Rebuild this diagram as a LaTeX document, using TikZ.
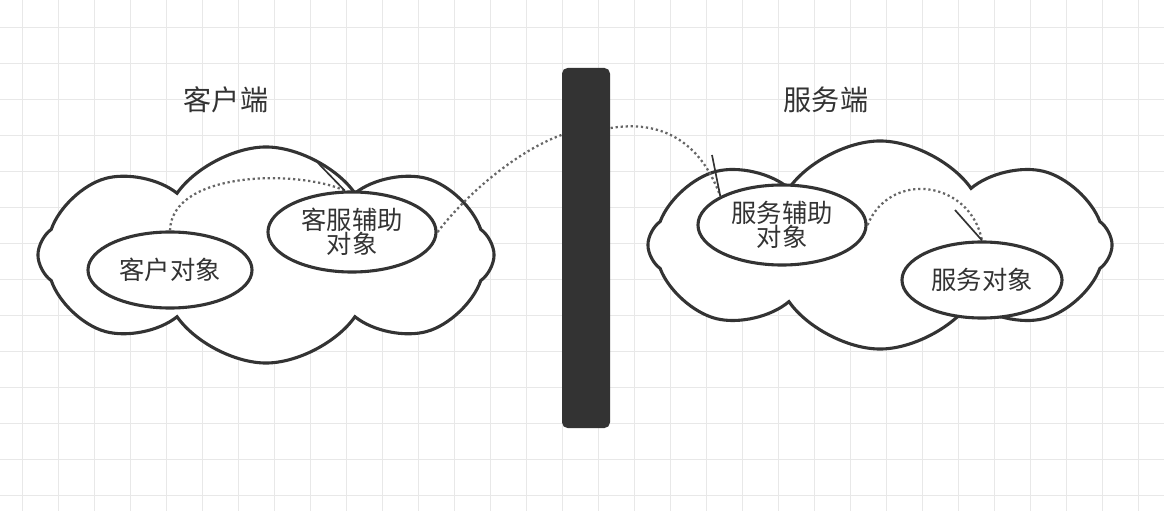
\documentclass[tikz,border=0pt]{standalone}
\usepackage{fontspec}
\setmainfont{Noto Sans CJK SC}
\usetikzlibrary{shapes.symbols,shapes.geometric,positioning}
\definecolor{ink}{HTML}{333333}
\definecolor{gridc}{HTML}{E8E8E8}
\begin{document}
\begin{tikzpicture}[x=0.025cm,y=-0.025cm,thick,
    cloud node/.style={cloud,draw=ink,line width=2.2pt,fill=white,cloud puffs=8,cloud puff arc=110,aspect=2.2},
    obj node/.style={ellipse,draw=ink,line width=2.2pt,fill=white,font=\fontsize{18}{20}\selectfont,text=ink,align=center,inner sep=1pt},
    title node/.style={font=\fontsize{20}{22}\selectfont,text=ink},
    link/.style={dotted,line width=1.6pt,color=ink!75},
    tick/.style={-,line width=1.2pt,color=ink}]
  \useasboundingbox (0,0) rectangle (1164,511);
  % grid
  \foreach \x in {22,58,...,1164} \draw[gridc,line width=0.6pt] (\x,0) -- (\x,511);
  \foreach \y in {27,63,...,511} \draw[gridc,line width=0.6pt] (0,\y) -- (1164,\y);
  % clouds
  \node[cloud node,minimum width=11.4cm,minimum height=5.4cm] (lc) at (266,255) {};
  \node[cloud node,minimum width=11.6cm,minimum height=5.2cm] (rc) at (880,245) {};
  % titles
  \node[title node] (ct) at (226,100) {客户端};
  \node[title node] (st) at (826,100) {服务端};
  % wall
  \node[rectangle,rounded corners=4pt,fill=ink,minimum width=1.2cm,minimum height=9cm] (wall) at (586,248) {};
  % objects
  \node[obj node,minimum width=4.1cm,minimum height=1.9cm] (co) at (170,270) {客户对象};
  \node[obj node,minimum width=4.2cm,minimum height=2cm] (ch) at (352,232) {客服辅助\\[-3pt]对象};
  \node[obj node,minimum width=4.2cm,minimum height=2cm] (sh) at (782,225) {服务辅助\\[-3pt]对象};
  \node[obj node,minimum width=4cm,minimum height=1.9cm] (so) at (982,280) {服务对象};
  % links
  \coordinate (t1) at (318,163);
  \coordinate (t2) at (712,155);
  \coordinate (t3) at (955,210);
  \draw[link] (co.north) .. controls (172,170) and (300,170) .. (ch.100);
  \draw[link] (ch.east) .. controls (470,190) and (520,150) .. (wall.north west |- 0,135);
  \draw[link] (wall.north east |- 0,128) .. controls (660,120) and (700,140) .. (sh.155);
  \draw[link] (sh.east) .. controls (890,170) and (970,180) .. (so.north);
  \draw[tick] (t1) -- (ch.100);
  \draw[tick] (t2) -- (sh.155);
  \draw[tick] (t3) -- (so.north);
\end{tikzpicture}
\end{document}
